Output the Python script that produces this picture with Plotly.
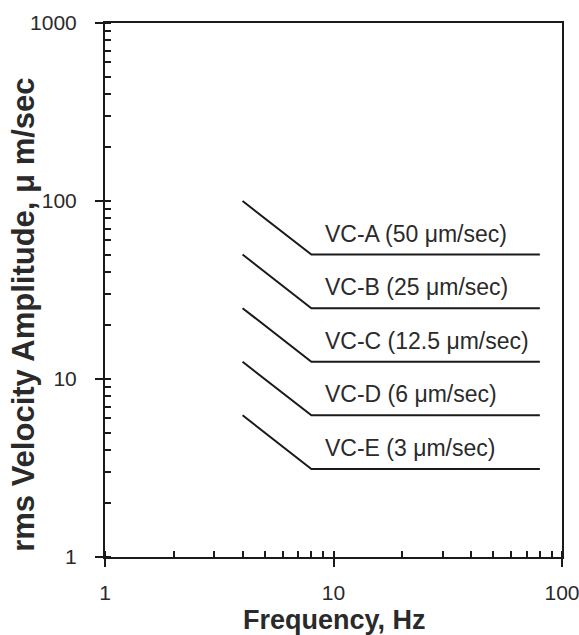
import math
import plotly.graph_objects as go

# Data: vibration criteria curves (rms velocity, um/sec)
criteria = ["VC-A", "VC-B", "VC-C", "VC-D", "VC-E"]
plateau_values = [50, 25, 12.5, 6.25, 3.125]
label_values = ["50", "25", "12.5", "6", "3"]
freq_start = 4
freq_knee = 8
freq_end = 80

x_tick_vals = [1, 10, 100]
x_tick_text = ["1", "10", "100"]
y_tick_vals = [1, 10, 100, 1000]
y_tick_text = ["1", "10", "100", "1000"]

FONT = "Arial, Liberation Sans, Helvetica, sans-serif"
INK = "#1a1a1a"
TXT = "#2a2a2a"

fig = go.Figure()
for name, v in zip(criteria, plateau_values):
    fig.add_trace(go.Scatter(
        x=[freq_start, freq_knee, freq_end],
        y=[v * freq_knee / freq_start, v, v],
        mode="lines",
        line=dict(color=INK, width=2),
        name=name,
        showlegend=False,
        hoverinfo="skip",
    ))

label_freq = 9.0
for name, v, lab in zip(criteria, plateau_values, label_values):
    fig.add_annotation(
        x=math.log10(label_freq), y=math.log10(v), xref="x", yref="y",
        text=f"{name} ({lab} μm/sec)",
        showarrow=False, xanchor="left", yanchor="middle",
        yshift=21,
        font=dict(family=FONT, size=23, color=TXT),
    )

axis_common = dict(
    type="log",
    showgrid=False,
    zeroline=False,
    showline=True,
    linecolor=INK,
    linewidth=2,
    mirror=True,
    ticks="outside",
    ticklen=8,
    tickwidth=1.5,
    tickcolor=INK,
    ticklabeloverflow="allow",
    tickfont=dict(family=FONT, size=21, color=TXT),
)

fig.update_xaxes(
    **axis_common,
    range=[0, 2],
    tickvals=x_tick_vals,
    ticktext=x_tick_text,
    ticklabelstandoff=8,
    minor=dict(ticks="inside", ticklen=6, tickwidth=1.5, tickcolor=INK, dtick="D1", showgrid=False),
)
fig.update_yaxes(
    **axis_common,
    range=[0, 3],
    tickvals=y_tick_vals,
    ticktext=y_tick_text,
    ticklabelstandoff=14,
    minor=dict(ticks="inside", ticklen=6, tickwidth=1.5, tickcolor=INK, dtick="D1", showgrid=False),
)

# overlay axes to draw the inner half of the major (decade) ticks
fig.update_layout(
    xaxis2=dict(type="log", range=[0, 2], overlaying="x", side="bottom", anchor="y",
                tickvals=x_tick_vals, ticks="inside", ticklen=6, tickwidth=1.5,
                tickcolor=INK, showticklabels=False, showgrid=False, showline=False,
                zeroline=False),
    yaxis2=dict(type="log", range=[0, 3], overlaying="y", side="left", anchor="x",
                tickvals=y_tick_vals, ticks="inside", ticklen=6, tickwidth=1.5,
                tickcolor=INK, showticklabels=False, showgrid=False, showline=False,
                zeroline=False),
)
fig.add_trace(go.Scatter(x=[1], y=[1], xaxis="x2", yaxis="y2", mode="markers",
                         marker=dict(opacity=0), showlegend=False, hoverinfo="skip"))

# axis titles
fig.add_annotation(
    x=0.503, y=-0.118, xref="paper", yref="paper",
    text="<b>Frequency, Hz</b>", showarrow=False,
    xanchor="center", yanchor="middle",
    font=dict(family=FONT, size=27, color=TXT),
)
fig.add_annotation(
    x=-0.18, y=0.453, xref="paper", yref="paper",
    text="<b>rms Velocity Amplitude, μ m/sec</b>", showarrow=False,
    textangle=-90, xanchor="center", yanchor="middle",
    font=dict(family=FONT, size=31, color=TXT),
)

fig.update_layout(
    width=579, height=635,
    margin=dict(l=105, r=17, t=23, b=78, autoexpand=False),
    paper_bgcolor="white",
    plot_bgcolor="white",
    showlegend=False,
)

fig.write_html(
    "out.html",
    config={"displayModeBar": False},
    post_script="document.body.style.margin='0px';document.body.style.padding='0px';",
)
